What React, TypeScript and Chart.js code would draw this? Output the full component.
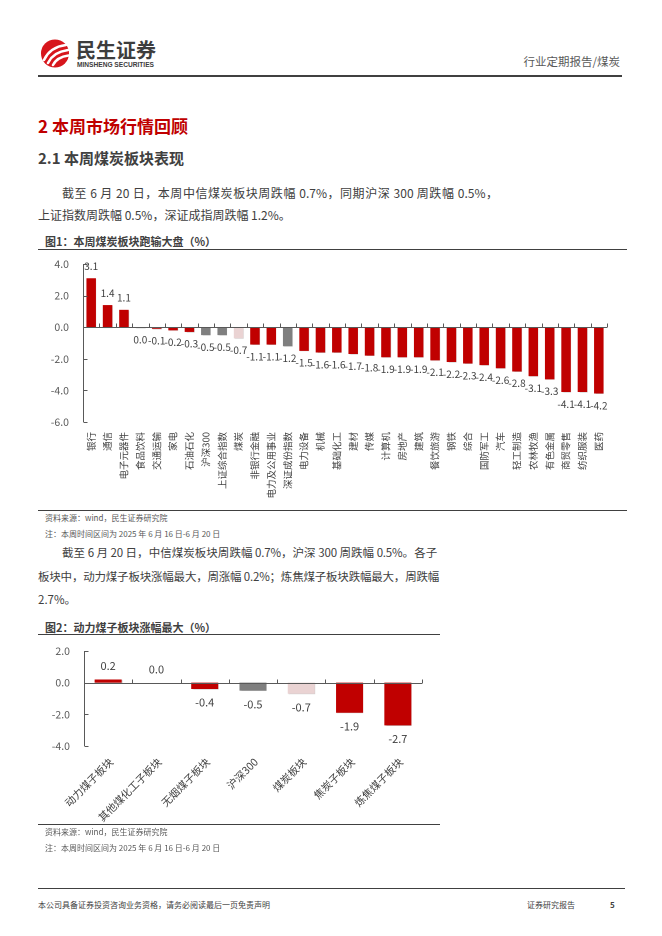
import React, { useEffect, useRef } from "react";
import { Chart, registerables } from "chart.js";

Chart.register(...registerables);

const FONT = '"Noto Sans CJK SC", "Noto Sans", sans-serif';

// ---------- Figure 1 data ----------
const sectorLabels = [
  "银行", "通信", "电子元器件", "食品饮料", "交通运输", "家电", "石油石化", "沪深300",
  "上证综合指数", "煤炭", "非银行金融", "电力及公用事业", "深证成份指数", "电力设备", "机械", "基础化工",
  "建材", "传媒", "计算机", "房地产", "建筑", "餐饮旅游", "钢铁", "综合",
  "国防军工", "汽车", "轻工制造", "农林牧渔", "有色金属", "商贸零售", "纺织服装", "医药",
];
const sectorValues = [
  3.1, 1.4, 1.1, -0.04, -0.1, -0.2, -0.3, -0.5,
  -0.5, -0.7, -1.1, -1.1, -1.2, -1.5, -1.6, -1.6,
  -1.7, -1.8, -1.9, -1.9, -1.9, -2.1, -2.2, -2.3,
  -2.4, -2.6, -2.8, -3.1, -3.3, -4.1, -4.1, -4.2,
];
const sectorTicks = [-6, -4, -2, 0, 2, 4];

// ---------- Figure 2 data ----------
const subLabels = ["动力煤子板块", "其他煤化工子板块", "无烟煤子板块", "沪深300", "煤炭板块", "焦炭子板块", "炼焦煤子板块"];
const subValues = [0.2, 0.0, -0.4, -0.5, -0.7, -1.9, -2.7];
const subTicks = [-4, -2, 0, 2];

// category roles
const indexNames = ["沪深300", "上证综合指数", "深证成份指数"];
const coalNames = ["煤炭", "煤炭板块"];

const RED = "#C00000";
const GRAY = "#7F7F7F";
const PINK = "#EAD3D3";
const AXIS = "#595959";
const TEXT = "#404040";

function colorFor(name: string) {
  if (indexNames.includes(name)) return GRAY;
  if (coalNames.includes(name)) return PINK;
  return RED;
}

function fmt(v: number) {
  return (Math.abs(v) < 0.05 ? 0 : v).toFixed(1);
}

type DecorOpts = {
  labelSize: number;
  labelOffset: number;
  xMode: "vertical" | "diag";
  xSize: number;
  xGap: number;
  yGap: number;
};

function makeDecor(o: DecorOpts) {
  return {
    id: "decor",
    beforeDatasetDraw(chart: any) {
      const ctx = chart.ctx;
      ctx.save();
      ctx.shadowColor = "rgba(0,0,0,0.22)";
      ctx.shadowOffsetX = 1.2;
      ctx.shadowOffsetY = 1.2;
      ctx.shadowBlur = 1.5;
    },
    afterDatasetDraw(chart: any) {
      chart.ctx.restore();
    },
    afterDatasetsDraw(chart: any) {
      const { ctx, chartArea: a, scales } = chart;
      const x = scales.x;
      const y = scales.y;
      ctx.save();
      ctx.strokeStyle = AXIS;
      ctx.lineWidth = 1;
      ctx.beginPath();
      const lx = Math.round(a.left) + 0.5;
      ctx.moveTo(lx, a.top);
      ctx.lineTo(lx, a.bottom);
      y.ticks.forEach((t: any) => {
        const py = Math.round(y.getPixelForValue(t.value)) + 0.5;
        ctx.moveTo(lx, py);
        ctx.lineTo(lx + 4, py);
      });
      const zy = Math.round(y.getPixelForValue(0)) + 0.5;
      ctx.moveTo(a.left, zy);
      ctx.lineTo(a.right, zy);
      const n = chart.data.labels.length;
      for (let i = 0; i <= n; i++) {
        const bx = Math.round(x.getPixelForValue(i - 0.5)) + 0.5;
        ctx.moveTo(bx, zy);
        ctx.lineTo(bx, zy - 4);
      }
      ctx.stroke();

      // y tick labels
      ctx.fillStyle = AXIS;
      ctx.font = `10.5px ${FONT}`;
      ctx.textAlign = "right";
      ctx.textBaseline = "middle";
      y.ticks.forEach((t: any) => {
        ctx.fillText(Number(t.value).toFixed(1), a.left - o.yGap, y.getPixelForValue(t.value));
      });

      // value labels
      const meta = chart.getDatasetMeta(0);
      const vals = chart.data.datasets[0].data as number[];
      ctx.fillStyle = TEXT;
      ctx.font = `${o.labelSize}px ${FONT}`;
      ctx.textAlign = "center";
      ctx.textBaseline = "middle";
      meta.data.forEach((bar: any, i: number) => {
        const v = vals[i];
        const yy = v >= 0 ? bar.y - o.labelOffset : bar.y + o.labelOffset;
        ctx.fillText(fmt(v), bar.x, yy);
      });

      // category labels
      ctx.font = `${o.xSize}px ${FONT}`;
      ctx.fillStyle = TEXT;
      const labels = chart.data.labels as string[];
      labels.forEach((lab, i) => {
        const px = x.getPixelForValue(i);
        ctx.save();
        if (o.xMode === "vertical") {
          ctx.translate(px, a.bottom + o.xGap);
          ctx.rotate(-Math.PI / 2);
        } else {
          ctx.translate(px + 3, a.bottom + o.xGap);
          ctx.rotate(-Math.PI / 4);
        }
        ctx.textAlign = "right";
        ctx.textBaseline = "middle";
        ctx.fillText(lab, 0, 0);
        ctx.restore();
      });
      ctx.restore();
    },
  };
}

type BarChartProps = {
  labels: string[];
  values: number[];
  ticks: number[];
  width: number;
  height: number;
  padding: { top: number; right: number; bottom: number; left: number };
  yWidth: number;
  barPct: number;
  decor: DecorOpts;
  style: React.CSSProperties;
};

function BarChart(p: BarChartProps) {
  const ref = useRef<HTMLCanvasElement | null>(null);
  useEffect(() => {
    if (!ref.current) return;
    const chart = new Chart(ref.current, {
      type: "bar",
      data: {
        labels: p.labels,
        datasets: [
          {
            data: p.values,
            backgroundColor: p.labels.map(colorFor),
            borderWidth: 0,
            categoryPercentage: 1,
            barPercentage: p.barPct,
          },
        ],
      },
      options: {
        animation: false,
        responsive: false,
        devicePixelRatio: 2,
        layout: { padding: p.padding },
        plugins: { legend: { display: false }, tooltip: { enabled: false } },
        scales: {
          x: { display: false, offset: true },
          y: {
            min: Math.min(...p.ticks),
            max: Math.max(...p.ticks),
            ticks: {
              display: false,
              stepSize: p.ticks[1] - p.ticks[0],
              padding: 0,
            },
            grid: { display: false, drawTicks: false },
            border: { display: false },
            afterFit: (s: any) => {
              s.width = p.yWidth;
            },
          },
        },
      },
      plugins: [makeDecor(p.decor)],
    } as any);
    return () => chart.destroy();
  }, []);
  return (
    <canvas
      ref={ref}
      width={p.width}
      height={p.height}
      style={{ position: "absolute", width: p.width, height: p.height, ...p.style }}
    />
  );
}

function T(props: {
  x?: number;
  right?: number;
  cy: number;
  size: number;
  bold?: boolean;
  color?: string;
  width?: number;
  justify?: boolean;
  family?: string;
  spacing?: number;
  children: React.ReactNode;
}) {
  const s: React.CSSProperties = {
    position: "absolute",
    top: props.cy - props.size / 2 - 1,
    fontSize: props.size,
    lineHeight: `${props.size + 2}px`,
    fontFamily: props.family || FONT,
    fontWeight: props.bold ? 700 : 400,
    color: props.color || TEXT,
    whiteSpace: "nowrap",
  };
  if (props.spacing !== undefined) s.letterSpacing = props.spacing;
  if (props.x !== undefined) s.left = props.x;
  if (props.right !== undefined) s.right = 662 - props.right;
  if (props.width !== undefined) {
    s.width = props.width;
    if (props.justify) {
      s.textAlign = "justify";
      (s as any).textAlignLast = "justify";
    }
  }
  return <div style={s}>{props.children}</div>;
}

function HLine(props: { x1: number; x2: number; y: number; w?: number; color?: string }) {
  return (
    <div
      style={{
        position: "absolute",
        left: props.x1,
        top: props.y,
        width: props.x2 - props.x1,
        height: props.w || 1,
        background: props.color || "#404040",
      }}
    />
  );
}

function Logo() {
  return (
    <svg style={{ position: "absolute", left: 40, top: 38 }} width={32} height={32} viewBox="0 0 32 32">
      <circle cx={15} cy={15.5} r={14} fill="#D7161C" />
      <path d="M4 22 Q 10 9 26 7" stroke="#fff" strokeWidth={2.6} fill="none" strokeLinecap="round" />
      <path d="M8 25 Q 13 14 28 12" stroke="#fff" strokeWidth={2.6} fill="none" strokeLinecap="round" />
      <path d="M13 27 Q 17 19 28.5 17.5" stroke="#fff" strokeWidth={2.6} fill="none" strokeLinecap="round" />
    </svg>
  );
}

export default function App() {
  return (
    <div style={{ position: "absolute", left: 0, top: 0, width: 662, height: 936, background: "#fff", overflow: "hidden" }}>
      <Logo />
      <T x={76} cy={50} size={20} bold color="#3d3d3d">民生证券</T>
      <T x={77} cy={65.5} size={6.6} bold color="#3d3d3d" family='"Liberation Sans", Arial, sans-serif'>
        MINSHENG SECURITIES
      </T>
      <T right={620} cy={62} size={11.5} color="#595959">行业定期报告/煤炭</T>
      <HLine x1={38} x2={622} y={75} w={1.5} />

      <T x={38} cy={125} size={17} bold color="#C00000">2 本周市场行情回顾</T>
      <T x={38} cy={157} size={15} bold color="#404040">2.1 本周煤炭板块表现</T>

      <T x={62} cy={193} size={12} width={436} justify>
        截至 6 月 20 日，本周中信煤炭板块周跌幅 0.7%，同期沪深 300 周跌幅 0.5%，
      </T>
      <T x={38} cy={215} size={12}>上证指数周跌幅 0.5%，深证成指周跌幅 1.2%。</T>

      <T x={45} cy={241} size={11} bold>图1：本周煤炭板块跑输大盘（%）</T>
      <HLine x1={38} x2={627} y={249} />

      <BarChart
        labels={sectorLabels}
        values={sectorValues}
        ticks={sectorTicks}
        width={600}
        height={250}
        padding={{ top: 8, right: 23, bottom: 84, left: 0 }}
        yWidth={53}
        barPct={0.58}
        decor={{ labelSize: 10, labelOffset: 12, xMode: "vertical", xSize: 9.5, xGap: 10, yGap: 14 }}
        style={{ left: 30, top: 256 }}
      />

      <HLine x1={38} x2={627} y={510} />
      <T x={45} cy={518} size={8} color="#595959">资料来源：wind，民生证券研究院</T>
      <T x={45} cy={534} size={8} color="#595959">注：本周时间区间为 2025 年 6 月 16 日-6 月 20 日</T>

      <T x={62} cy={553} size={11.5} width={375} justify spacing={-0.2}>
        截至 6 月 20 日，中信煤炭板块周跌幅 0.7%，沪深 300 周跌幅 0.5%。各子
      </T>
      <T x={38} cy={577} size={11.5} width={399} justify spacing={-0.2}>
        板块中，动力煤子板块涨幅最大，周涨幅 0.2%；炼焦煤子板块跌幅最大，周跌幅
      </T>
      <T x={38} cy={600} size={11.5}>2.7%。</T>

      <T x={45} cy={627} size={11} bold>图2：动力煤子板块涨幅最大（%）</T>
      <HLine x1={38} x2={440} y={634} />

      <BarChart
        labels={subLabels}
        values={subValues}
        ticks={subTicks}
        width={420}
        height={185}
        padding={{ top: 11, right: 28, bottom: 79, left: 0 }}
        yWidth={54}
        barPct={0.56}
        decor={{ labelSize: 11, labelOffset: 13.5, xMode: "diag", xSize: 10.5, xGap: 14, yGap: 14 }}
        style={{ left: 30, top: 640 }}
      />

      <HLine x1={38} x2={440} y={824} />
      <T x={45} cy={832} size={8} color="#595959">资料来源：wind，民生证券研究院</T>
      <T x={45} cy={848} size={8} color="#595959">注：本周时间区间为 2025 年 6 月 16 日-6 月 20 日</T>

      <HLine x1={38} x2={625} y={888} />
      <T x={38} cy={905} size={8} color="#404040">本公司具备证券投资咨询业务资格，请务必阅读最后一页免责声明</T>
      <T x={527} cy={905} size={8} color="#404040">证券研究报告</T>
      <T x={610} cy={905} size={8} bold color="#404040">5</T>
    </div>
  );
}
